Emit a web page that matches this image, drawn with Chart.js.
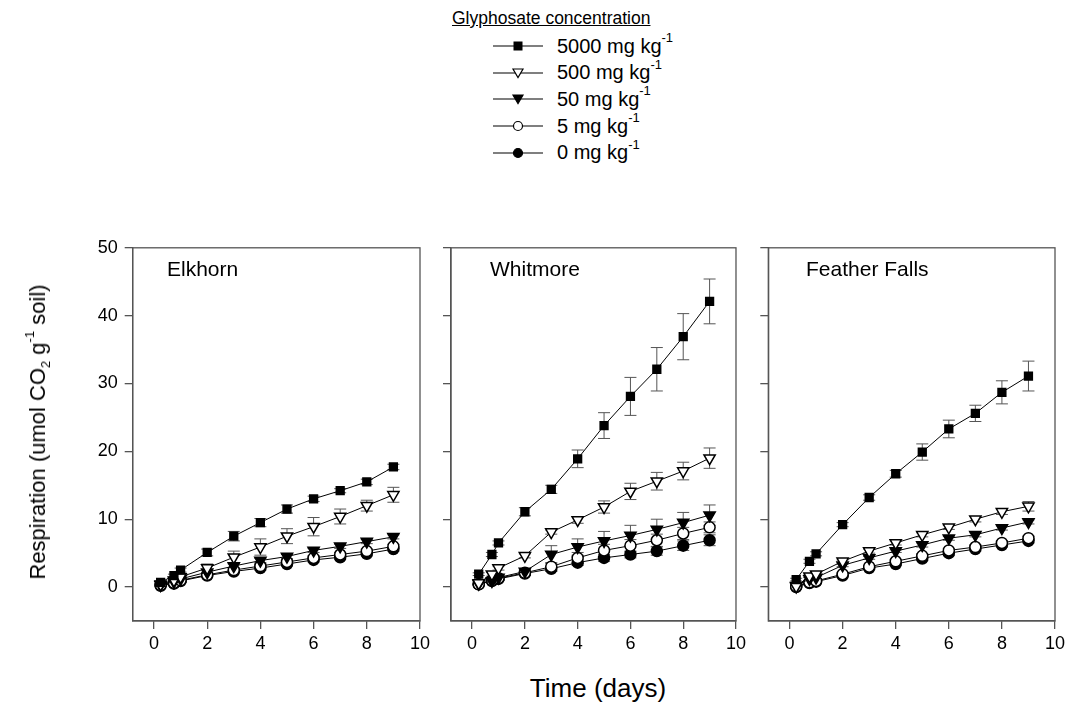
<!DOCTYPE html>
<html>
<head>
<meta charset="utf-8">
<script src="https://cdn.jsdelivr.net/npm/chart.js@4/dist/chart.umd.min.js"></script>
<style>
  html, body { margin:0; padding:0; background:#fff; }
  body { width:1071px; height:711px; position:relative; overflow:hidden; font-family:"Liberation Sans", Arial, sans-serif; color:#000; }
  canvas { position:absolute; }
  .ptitle { position:absolute; font-size:21px; white-space:nowrap; }
  #legend { position:absolute; left:452px; top:8px; font-size:17.5px; }
  #legend .lt { text-decoration:underline; position:absolute; left:0; top:0; white-space:nowrap; }
  #legend .row { position:absolute; left:41px; height:24px; white-space:nowrap; display:flex; align-items:center; font-size:20px; }
  #legend .row svg { margin-right:14px; }
  sup { font-size:13px; position:relative; top:-3px; vertical-align:super; line-height:0; }
  sub { font-size:13px; vertical-align:sub; line-height:0; }
  #xtitle { position:absolute; left:0; width:1071px; padding-left:125px; box-sizing:border-box; text-align:center; top:673px; font-size:26px; }
  #ytitle { position:absolute; left:38px; top:432px; transform:translate(-50%,-50%) rotate(-90deg); font-size:22px; white-space:nowrap; }
</style>
</head>
<body>
<div id="legend"></div>
<canvas id="c1" width="440" height="430" style="left:0px;top:230px"></canvas>
<canvas id="c2" width="310" height="430" style="left:440px;top:230px"></canvas>
<canvas id="c3" width="321" height="430" style="left:750px;top:230px"></canvas>
<div class="ptitle" style="left:167px;top:257px">Elkhorn</div>
<div class="ptitle" style="left:490px;top:257px">Whitmore</div>
<div class="ptitle" style="left:806px;top:257px">Feather Falls</div>
<div id="xtitle">Time (days)</div>
<div id="ytitle">Respiration (umol CO<sub>2</sub> g<sup>-1</sup> soil)</div>
<script>
// ---- data ----
const days = [0.25, 0.75, 1, 2, 3, 4, 5, 6, 7, 8, 9];
const xTicks = [0, 2, 4, 6, 8, 10];
const yTicks = [0, 10, 20, 30, 40, 50];
const siteNames = ["Elkhorn", "Whitmore", "Feather Falls"];
const concLabels = ["5000 mg kg-1", "500 mg kg-1", "50 mg kg-1", "5 mg kg-1", "0 mg kg-1"];

// Elkhorn
const elk5000 = [0.7, 1.7, 2.5, 5.1, 7.5, 9.5, 11.5, 13.0, 14.2, 15.5, 17.7];
const elk5000Err = [0.2, 0.2, 0.3, 0.5, 0.7, 0.6, 0.6, 0.4, 0.3, 0.4, 0.4];
const elk500 = [0.4, 1.0, 1.5, 2.8, 4.4, 5.9, 7.5, 8.9, 10.4, 12.0, 13.6];
const elk500Err = [0.1, 0.2, 0.3, 0.6, 0.9, 1.2, 1.1, 1.35, 1.1, 0.8, 1.1];
const elk50 = [0.3, 0.8, 1.2, 2.2, 3.1, 3.9, 4.5, 5.4, 6.0, 6.7, 7.4];
const elk50Err = [0.1, 0.2, 0.2, 0.3, 0.3, 0.3, 0.3, 0.3, 0.3, 0.3, 0.3];
const elk5 = [0.3, 0.6, 1.0, 1.8, 2.5, 3.1, 3.7, 4.3, 4.8, 5.3, 6.0];
const elk5Err = [0.1, 0.1, 0.2, 0.2, 0.3, 0.3, 0.3, 0.3, 0.3, 0.3, 0.3];
const elk0 = [0.2, 0.5, 0.9, 1.7, 2.3, 2.8, 3.4, 4.0, 4.4, 4.9, 5.6];
const elk0Err = [0.1, 0.1, 0.2, 0.2, 0.2, 0.3, 0.3, 0.3, 0.3, 0.3, 0.3];

// Whitmore
const whi5000 = [1.9, 4.8, 6.5, 11.1, 14.4, 18.9, 23.8, 28.1, 32.1, 36.9, 42.1];
const whi5000Err = [0.2, 0.3, 0.3, 0.6, 0.6, 1.3, 1.9, 2.8, 3.2, 3.4, 3.3];
const whi500 = [0.6, 1.9, 2.8, 4.6, 8.1, 9.9, 11.8, 14.1, 15.6, 17.1, 19.0];
const whi500Err = [0.2, 0.3, 0.3, 0.3, 0.3, 0.5, 0.9, 1.2, 1.3, 1.3, 1.5];
const whi50 = [0.5, 0.9, 1.4, 2.3, 4.8, 5.9, 6.8, 7.6, 8.5, 9.5, 10.6];
const whi50Err = [0.2, 0.2, 0.3, 0.3, 1.3, 1.2, 1.4, 1.5, 1.5, 1.5, 1.5];
const whi5 = [0.4, 1.0, 1.3, 2.1, 3.0, 4.3, 5.4, 6.1, 6.9, 7.9, 8.8];
const whi5Err = [0.1, 0.2, 0.2, 0.3, 0.6, 0.8, 0.9, 0.9, 0.9, 0.9, 0.8];
const whi0 = [0.4, 0.9, 1.2, 2.0, 2.7, 3.6, 4.3, 4.8, 5.3, 6.1, 6.9];
const whi0Err = [0.1, 0.2, 0.2, 0.3, 0.4, 0.4, 0.5, 0.5, 0.6, 0.7, 0.8];

// Feather Falls
const fea5000 = [1.1, 3.8, 4.9, 9.2, 13.2, 16.7, 19.9, 23.3, 25.6, 28.7, 31.1];
const fea5000Err = [0.2, 0.3, 0.3, 0.3, 0.4, 0.5, 1.2, 1.3, 1.2, 1.7, 2.2];
const fea500 = [0.1, 1.6, 1.9, 3.8, 5.3, 6.5, 7.7, 8.8, 10.0, 11.1, 11.9];
const fea500Err = [0.1, 0.2, 0.2, 0.2, 0.3, 0.3, 0.3, 0.3, 0.4, 0.4, 0.7];
const fea50 = [0.2, 1.2, 1.4, 3.2, 4.3, 5.3, 6.2, 7.2, 7.7, 8.7, 9.6];
const fea50Err = [0.1, 0.2, 0.2, 0.2, 0.2, 0.2, 0.3, 0.3, 0.3, 0.3, 0.3];
const fea5 = [0.1, 0.7, 0.9, 1.9, 3.0, 3.8, 4.6, 5.4, 5.9, 6.5, 7.2];
const fea5Err = [0.1, 0.1, 0.1, 0.2, 0.2, 0.2, 0.3, 0.3, 0.3, 0.3, 0.3];
const fea0 = [0.0, 0.6, 0.8, 1.7, 2.8, 3.4, 4.2, 5.0, 5.6, 6.2, 6.8];
const fea0Err = [0.1, 0.1, 0.1, 0.2, 0.2, 0.2, 0.3, 0.3, 0.3, 0.3, 0.3];

// ---- styling ----
const FONT = "'Liberation Sans', Arial, sans-serif";
const AXIS_COLOR = '#555';
const markerStyles = [
  { pointStyle: 'rect', fill: '#000', radius: 5.5, rotation: 0 },
  { pointStyle: 'triangle', fill: '#fff', radius: 6.5, rotation: 180 },
  { pointStyle: 'triangle', fill: '#000', radius: 6.5, rotation: 180 },
  { pointStyle: 'circle', fill: '#fff', radius: 5.5, rotation: 0 },
  { pointStyle: 'circle', fill: '#000', radius: 5.5, rotation: 0 }
];

function makeDatasets(series, errs) {
  return series.map((vals, i) => ({
    label: concLabels[i],
    data: days.map((d, k) => ({ x: d, y: vals[k] })),
    errors: errs[i],
    borderColor: '#000',
    borderWidth: 1,
    backgroundColor: markerStyles[i].fill,
    pointStyle: markerStyles[i].pointStyle,
    pointRadius: markerStyles[i].radius,
    pointRotation: markerStyles[i].rotation,
    pointBackgroundColor: markerStyles[i].fill,
    pointBorderColor: '#000',
    pointBorderWidth: 1.5,
    tension: 0,
    fill: false
  }));
}

const errorBarPlugin = {
  id: 'errbars',
  beforeDatasetsDraw(chart) {
    const ctx = chart.ctx, xs = chart.scales.x, ys = chart.scales.y;
    ctx.save();
    ctx.strokeStyle = '#555';
    ctx.lineWidth = 1;
    chart.data.datasets.forEach(ds => {
      ds.data.forEach((p, k) => {
        const e = ds.errors[k];
        const px = xs.getPixelForValue(p.x);
        const top = ys.getPixelForValue(p.y + e);
        const bot = ys.getPixelForValue(p.y - e);
        ctx.beginPath();
        ctx.moveTo(px, top); ctx.lineTo(px, bot);
        ctx.moveTo(px - 6, top); ctx.lineTo(px + 6, top);
        ctx.moveTo(px - 6, bot); ctx.lineTo(px + 6, bot);
        ctx.stroke();
      });
    });
    ctx.restore();
  }
};

const boxPlugin = {
  id: 'box',
  afterDraw(chart) {
    const a = chart.chartArea, ctx = chart.ctx;
    ctx.save();
    ctx.strokeStyle = AXIS_COLOR;
    ctx.lineWidth = 1.3;
    ctx.strokeRect(a.left, a.top, a.right - a.left, a.bottom - a.top);
    ctx.restore();
  }
};

function makeChart(id, series, errs, yAxisWidth, padRight, showYLabels) {
  return new Chart(document.getElementById(id), {
    type: 'line',
    data: { datasets: makeDatasets(series, errs) },
    options: {
      responsive: false,
      animation: false,
      devicePixelRatio: 1,
      layout: { padding: { top: 15.7, right: padRight, left: 0, bottom: 0 } },
      plugins: { legend: { display: false }, tooltip: { enabled: false } },
      scales: {
        x: {
          type: 'linear', min: -0.8, max: 10,
          afterBuildTicks: s => { s.ticks = xTicks.map(v => ({ value: v })); },
          afterFit: s => { s.height = 39; },
          grid: { drawOnChartArea: false, drawTicks: true, tickLength: 8, color: AXIS_COLOR, lineWidth: 1.3 },
          border: { display: true, color: AXIS_COLOR, width: 1.3 },
          ticks: { color: '#000', font: { family: FONT, size: 18 }, padding: 4, maxRotation: 0 }
        },
        y: {
          type: 'linear', min: -5, max: 50,
          afterBuildTicks: s => { s.ticks = yTicks.map(v => ({ value: v })); },
          afterFit: s => { s.width = yAxisWidth; },
          grid: { drawOnChartArea: false, drawTicks: true, tickLength: 8, color: AXIS_COLOR, lineWidth: 1.3 },
          border: { display: true, color: AXIS_COLOR, width: 1.3 },
          ticks: {
            color: '#000', font: { family: FONT, size: 18 }, padding: 7,
            callback: v => showYLabels ? String(v) : ''
          }
        }
      }
    },
    plugins: [errorBarPlugin, boxPlugin]
  });
}

makeChart('c1', [elk5000, elk500, elk50, elk5, elk0], [elk5000Err, elk500Err, elk50Err, elk5Err, elk0Err], 132.7, 20, true);
makeChart('c2', [whi5000, whi500, whi50, whi5, whi0], [whi5000Err, whi500Err, whi50Err, whi5Err, whi0Err], 11, 12.7, false);
makeChart('c3', [fea5000, fea500, fea50, fea5, fea0], [fea5000Err, fea500Err, fea50Err, fea5Err, fea0Err], 18.3, 16, false);

// ---- legend (HTML) ----
function symbolSvg(i) {
  const m = markerStyles[i];
  let shape = '';
  if (m.pointStyle === 'rect') shape = `<rect x="20.5" y="3.5" width="9" height="9" fill="#000"/>`;
  else if (m.pointStyle === 'triangle') shape = `<polygon points="20,4 30,4 25,12.5" fill="${m.fill}" stroke="#000" stroke-width="1.2"/>`;
  else shape = `<circle cx="25" cy="8" r="4.5" fill="${m.fill}" stroke="#000" stroke-width="1.2"/>`;
  return `<svg width="50" height="16"><line x1="0" y1="8" x2="50" y2="8" stroke="#000" stroke-width="1.2"/>${shape}</svg>`;
}
const legend = document.getElementById('legend');
let html = `<div class="lt">Glyphosate concentration</div>`;
concLabels.forEach((lab, i) => {
  const txt = lab.replace(' kg-1', ' kg<sup>-1</sup>');
  html += `<div class="row" style="top:${26 + i * 26.7}px">${symbolSvg(i)}<span>${txt}</span></div>`;
});
legend.innerHTML = html;
</script>
</body>
</html>
